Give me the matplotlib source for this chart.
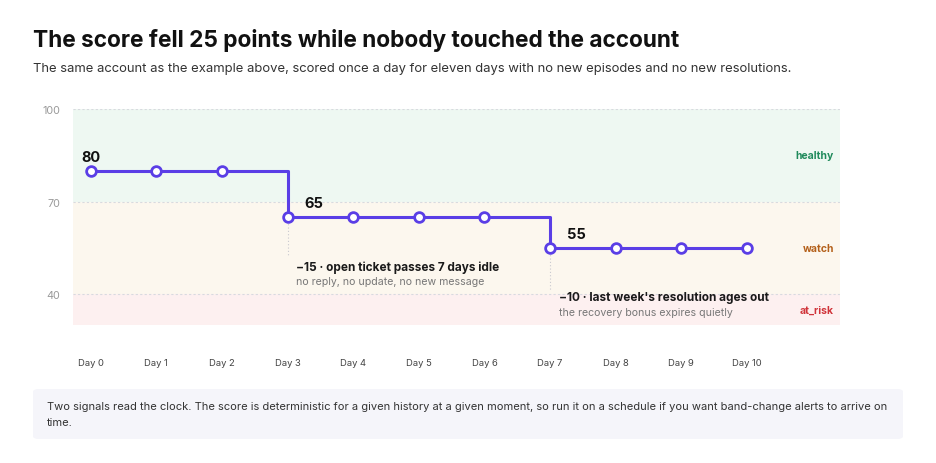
import numpy as np
import matplotlib.pyplot as plt
from matplotlib.patches import FancyBboxPatch

plt.rcParams['font.family'] = ['Inter', 'DejaVu Sans']

# data
days = list(range(11))
day_labels = ['Day %d' % d for d in days]
scores = [80, 80, 80, 65, 65, 65, 65, 55, 55, 55, 55]
bands = [('healthy', 70, 100, '#eef8f2', '#1f8a5b'),
         ('watch', 40, 70, '#fcf7ee', '#b4601a'),
         ('at_risk', 30, 40, '#fdf0f0', '#d0343a')]
drops = [(3, '\u221215 \u00b7 open ticket passes 7 days idle', 'no reply, no update, no new message'),
         (7, "\u221210 \u00b7 last week's resolution ages out", 'the recovery bonus expires quietly')]
title = 'The score fell 25 points while nobody touched the account'
subtitle = ('The same account as the example above, scored once a day for eleven days '
            'with no new episodes and no new resolutions.')
note = ('Two signals read the clock. The score is deterministic for a given history at a given moment, '
        'so run it on a schedule if you want band-change alerts to arrive on\ntime.')

W, H = 936, 464
fig = plt.figure(figsize=(W / 100, H / 100), dpi=100)

def px(x, y):
    return x / W, 1 - y / H

ax = fig.add_axes([73 / W, 1 - 326 / H, (840 - 73) / W, (326 - 110) / H])
ax.set_xlim(-0.27, 11.42)
ax.set_ylim(30, 100)

for name, lo, hi, fc, tc in bands:
    ax.axhspan(lo, hi, color=fc, lw=0, zorder=0)
for v in [100, 70, 40]:
    ax.axhline(v, color='#d8dadf', lw=0.8, ls=(0, (2, 2)), zorder=1)

line_c = '#5a3ee6'
ax.plot(days, scores, drawstyle='steps-post', color=line_c, lw=2.2, zorder=3)
ax.plot(days, scores, 'o', ms=7, mfc='white', mec=line_c, mew=2, zorder=4)

# value labels at each level start
for d, dx in [(0, 0), (3, 0.4), (7, 0.4)]:
    ax.text(d + dx, scores[d] + 2.3, str(scores[d]), ha='center', va='bottom',
            fontsize=10.5, fontweight='bold', color='#111111')

# drop annotations
for (d, head, sub), ybot in zip(drops, [52.5, 41.5]):
    ax.plot([d, d], [scores[d], ybot], color='#c9c9cf', lw=0.8, ls=(0, (1, 2)), zorder=2)
for (d, head, sub), (yh, ys) in zip(drops, [(49, 44.2), (39, 34.2)]):
    ax.text(d + 0.13, yh, head, fontsize=8.5, fontweight='bold', color='#1a1a1a', va='center')
    ax.text(d + 0.13, ys, sub, fontsize=7.6, color='#777777', va='center')

# band names on the right
for (name, lo, hi, fc, tc), yv in zip(bands, [85, 55, 35]):
    ax.text(11.33, yv, name, ha='right', va='center', fontsize=7.5, fontweight='bold', color=tc)

ax.set_xticks(days)
ax.set_xticklabels(day_labels)
ax.set_yticks([40, 70, 100])
ax.tick_params(axis='x', length=0, pad=24, labelsize=6.8, labelcolor='#444444')
ax.tick_params(axis='y', length=0, pad=9, labelsize=7.8, labelcolor='#999999')
for s in ax.spines.values():
    s.set_visible(False)

fig.text(*px(33, 40), title, fontsize=16.3, fontweight='bold', color='#111111', va='center')
fig.text(*px(33, 69), subtitle, fontsize=9.4, color='#333333', va='center')

box = FancyBboxPatch(px(33, 440), (903 - 33) / W, (440 - 390) / H,
                     boxstyle='round,pad=0,rounding_size=0.006', transform=fig.transFigure,
                     fc='#f5f5fa', ec='none')
fig.patches.append(box)
fig.text(*px(47, 415), note, fontsize=8.0, color='#333333', va='center', linespacing=1.75)

fig.savefig('out.png', dpi=100)
